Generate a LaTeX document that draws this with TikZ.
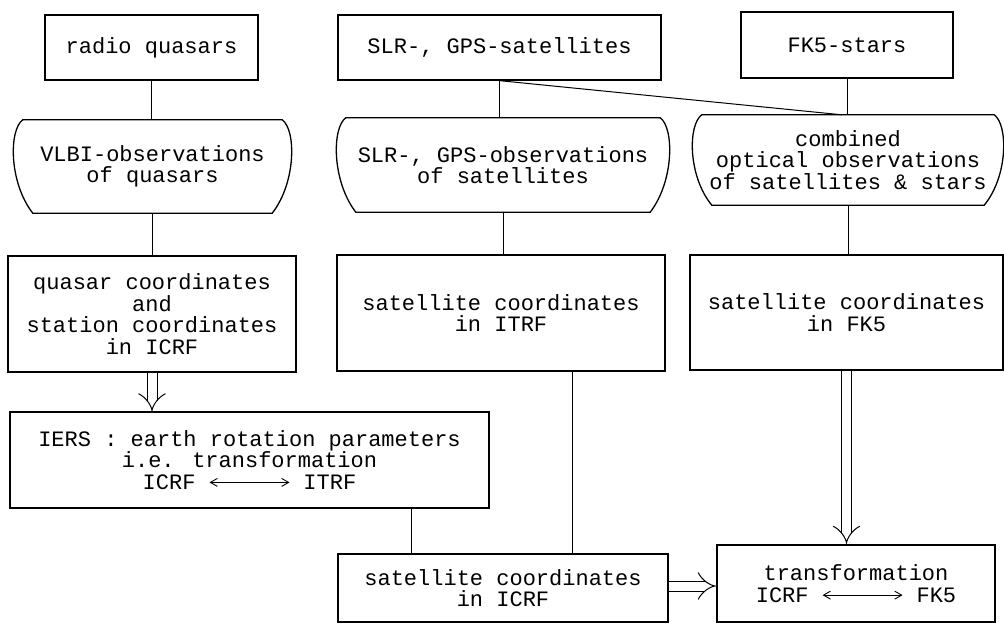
\documentclass[tikz,border=0pt]{standalone}
\usepackage{fontspec}
\usepackage{tikz}
\usetikzlibrary{arrows.meta}
\newfontfamily\boxfont{Liberation Mono}
\newcommand{\boxtext}{\boxfont\fontsize{22}{21.5}\selectfont}
\newcommand{\lrarrow}{\tikz[baseline=-0.6ex]\draw[{Straight Barb[length=7pt,width=8pt]}-{Straight Barb[length=7pt,width=8pt]},line width=0.9pt] (0pt,0pt) -- (80pt,0pt);}
% outline with bulging sides for the observation nodes
\newcommand{\barrel}[1]{%
  \draw[line width=1.3pt] ([xshift=8pt]#1.north west) -- ([xshift=-8pt]#1.north east)
    .. controls ([xshift=6pt,yshift=-10pt]#1.north east) and ([xshift=6pt,yshift=-16pt]#1.east) .. ([xshift=-18pt]#1.south east)
    -- ([xshift=18pt]#1.south west)
    .. controls ([xshift=-6pt,yshift=-16pt]#1.west) and ([xshift=-6pt,yshift=-10pt]#1.north west) .. cycle;}

\begin{document}
\begin{tikzpicture}[x=1pt,y=-1pt,
  box/.style={draw,line width=1.3pt,inner sep=0pt,align=center,font=\boxtext},
  obs/.style={inner sep=0pt,align=center,font=\boxtext},
  link/.style={line width=1pt},
  dbl/.style={double,double distance=9pt,line width=1pt,-{Implies}}]
\path[use as bounding box,fill=white] (0,0) rectangle (1004,624);

% sources
\node[box,minimum width=213pt,minimum height=65pt] (rq) at (151.5,47.5) {radio quasars};
\node[box,minimum width=323pt,minimum height=65pt] (slrs) at (499.5,47.5) {SLR-, GPS-satellites};
\node[box,minimum width=212pt,minimum height=66pt] (fks) at (847,45) {FK5-stars};

% observations
\node[obs,minimum width=275pt,minimum height=93pt] (vlbi) at (152.5,166.5) {VLBI-observations\\of quasars};
\node[obs,minimum width=330pt,minimum height=94pt] (slro) at (503,165) {SLR-, GPS-observations\\of satellites};
\node[obs,minimum width=308pt,minimum height=90pt] (comb) at (848,160) {combined\\optical observations\\of satellites \& stars};
\barrel{vlbi}
\barrel{slro}
\barrel{comb}

% coordinates
\node[box,minimum width=288pt,minimum height=116pt] (qc) at (152,314) {quasar coordinates\\and\\station coordinates\\in ICRF};
\node[box,minimum width=328pt,minimum height=116pt] (itrf) at (501,313) {satellite coordinates\\in ITRF};
\node[box,minimum width=313pt,minimum height=115pt] (fk5) at (846.5,312.5) {satellite coordinates\\in FK5};

% bottom part
\node[box,minimum width=479pt,minimum height=96pt] (iers) at (249.5,460) {IERS : earth rotation parameters\\i.e. transformation\\ICRF \lrarrow{} ITRF};
\node[box,minimum width=330pt,minimum height=68pt] (icrf) at (503,588) {satellite coordinates\\in ICRF};
\node[box,line width=2.4pt,minimum width=278pt,minimum height=77pt] (trans) at (856,583.5) {transformation\\ICRF \lrarrow{} FK5};

\draw[link] (rq.south) -- (rq.south |- vlbi.north);
\draw[link] (slrs.south) -- (slrs.south |- slro.north);
\draw[link] (slrs.south) -- ([xshift=-6pt]comb.north);
\draw[link] (fks.south) -- (fks.south |- comb.north);
\draw[link] (vlbi.south) -- (vlbi.south |- qc.north);
\draw[link] (slro.south) -- (slro.south |- itrf.north);
\draw[link] (comb.south) -- (comb.south |- fk5.north);
\draw[dbl] (qc.south) -- (qc.south |- iers.north);
\draw[link] ([xshift=71pt]itrf.south) -- ([xshift=71pt]itrf.south |- icrf.north);
\draw[link] ([xshift=162pt]iers.south) -- ([xshift=162pt]iers.south |- icrf.north);
\draw[dbl] (fk5.south) -- (fk5.south |- trans.north);
\draw[dbl] ([yshift=2pt]icrf.east) -- ([yshift=2pt]icrf.east -| trans.west);
\end{tikzpicture}
\end{document}
